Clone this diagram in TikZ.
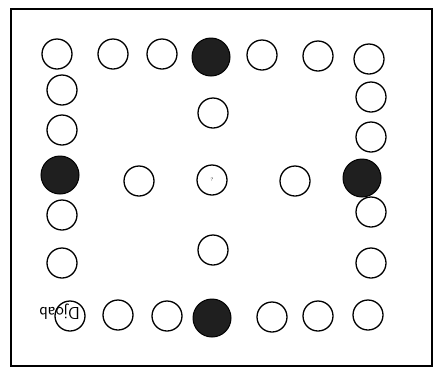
\documentclass[tikz,border=0pt]{standalone}
\usepackage{tikz}
\usetikzlibrary{calc}
\tikzset{
  hole/.style={circle,draw,line width=1.3pt,minimum size=30pt,inner sep=0pt},
  peg/.style={circle,draw,fill=black!88,line width=1pt,minimum size=38pt,inner sep=0pt}
}

\begin{document}
\begin{tikzpicture}[x=1pt,y=-1pt]
\useasboundingbox (0,0) rectangle (436,373);
% board
\draw[line width=1.6pt] (11,9) rectangle (432,366);
% top row
\foreach \x/\y/\n in {57/54/1,113/54/2,162/54/3,262/55/5,318/56/6,369/59/7}
  \node[hole] (t\n) at (\x,\y) {};
\node[peg] (t4) at (211,57) {};
% bottom row
\foreach \x/\y/\n in {70/316/1,118/315/2,167/316/3,272/317/5,318/316/6,368/315/7}
  \node[hole] (b\n) at (\x,\y) {};
\node[peg] (b4) at (212,318) {};
% left column
\foreach \y/\n in {90/1,130/2,215/4,263/5}
  \node[hole] (l\n) at (62,\y) {};
\node[peg] (l3) at (60,175) {};
% right column
\foreach \y/\n in {97/1,137/2,212/4,263/5}
  \node[hole] (r\n) at (371,\y) {};
\node[peg] (r3) at (362,178) {};
% middle
\node[hole] (m1) at (213,113) {};
\node[hole] (m2) at (139,181) {};
\node[hole] (m3) at (212,180) {};
\node[hole] (m4) at (295,181) {};
\node[hole] (m5) at (213,250) {};
\path (m3) node[font=\tiny] {?};
% label, upside down
\node[rotate=180,font=\sffamily\LARGE,anchor=west,inner sep=0pt] (lbl) at (80,312) {Djoab};
\end{tikzpicture}
\end{document}
